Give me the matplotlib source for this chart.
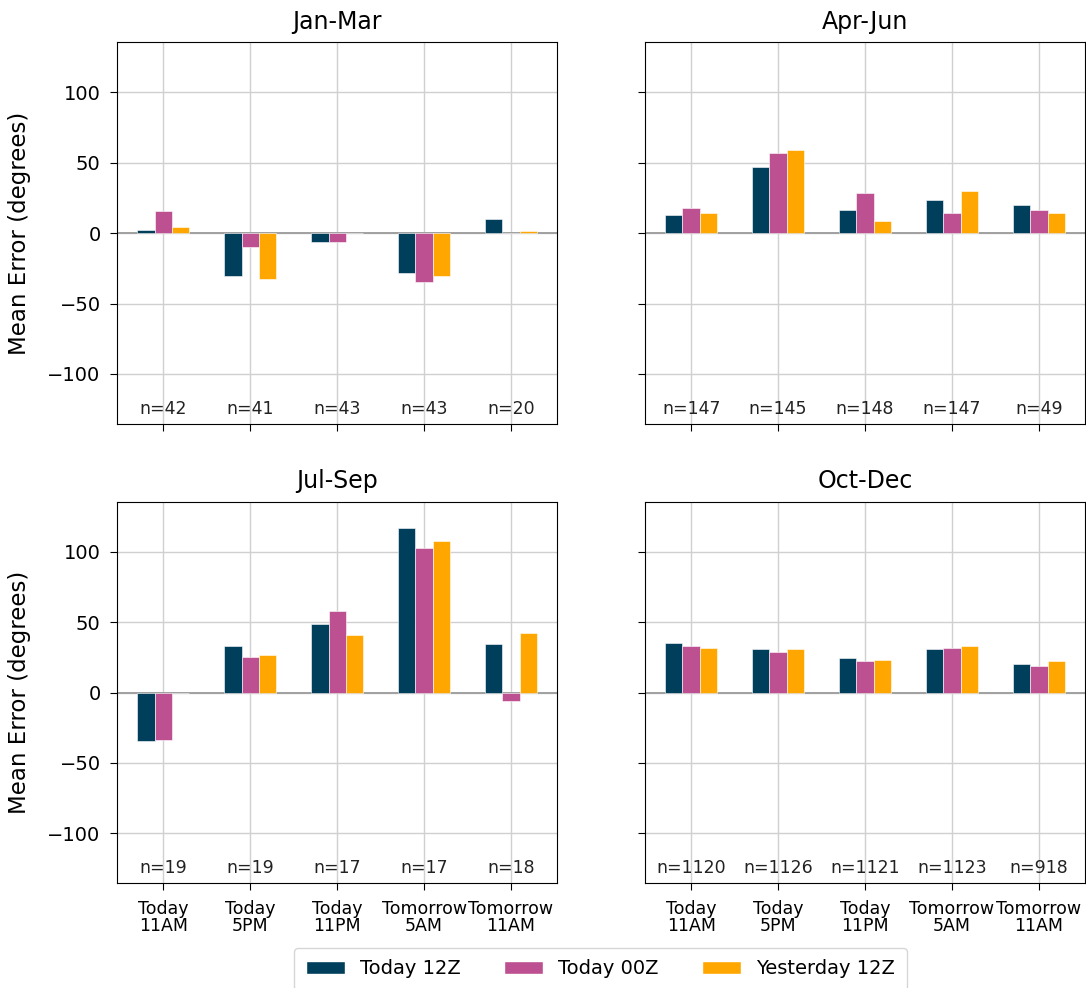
import numpy as np
import matplotlib.pyplot as plt
from matplotlib.patches import Patch

# forecast valid times
times = ['Today\n11AM', 'Today\n5PM', 'Today\n11PM', 'Tomorrow\n5AM', 'Tomorrow\n11AM']
runs = ['Today 12Z', 'Today 00Z', 'Yesterday 12Z']
colors = ['#003f5c', '#bc5090', '#ffa600']
seasons = ['Jan-Mar', 'Apr-Jun', 'Jul-Sep', 'Oct-Dec']

# mean error per season, one list per model run
jan_12z = [2.4, -30.7, -5.9, -28.4, 10.4]
jan_00z = [15.8, -9.5, -5.9, -35.0, 0.0]
jan_y12z = [4.7, -32.6, 0.0, -30.7, 1.4]
jan_n = [42, 41, 43, 43, 20]

apr_12z = [13.3, 47.2, 16.6, 23.4, 19.9]
apr_00z = [17.8, 57.0, 28.7, 14.3, 16.6]
apr_y12z = [14.3, 59.1, 8.9, 29.7, 14.3]
apr_n = [147, 145, 148, 147, 49]

jul_12z = [-34.4, 33.3, 48.7, 116.6, 34.4]
jul_00z = [-33.5, 25.5, 57.6, 102.6, -5.9]
jul_y12z = [-0.5, 26.7, 41.0, 108.0, 42.2]
jul_n = [19, 19, 17, 17, 18]

oct_12z = [35.3, 30.7, 24.2, 30.7, 20.0]
oct_00z = [32.8, 28.6, 22.1, 31.9, 18.8]
oct_y12z = [31.9, 30.7, 23.0, 32.8, 22.1]
oct_n = [1120, 1126, 1121, 1123, 918]

data = [
    (jan_12z, jan_00z, jan_y12z, jan_n),
    (apr_12z, apr_00z, apr_y12z, apr_n),
    (jul_12z, jul_00z, jul_y12z, jul_n),
    (oct_12z, oct_00z, oct_y12z, oct_n),
]

fig, axes = plt.subplots(2, 2, figsize=(10.86, 9.88), dpi=100, sharex=True, sharey=True)
plt.subplots_adjust(left=0.108, right=0.999, top=0.957, bottom=0.106, wspace=0.2, hspace=0.204)

x = np.arange(len(times))
width = 0.2

for ax, season, d in zip(axes.flat, seasons, data):
    ax.set_axisbelow(True)
    ax.grid(True, color='#d0d0d0', linewidth=1)
    ax.axhline(0, color='#a0a0a0', linewidth=1.4, zorder=1)
    for i in range(3):
        ax.bar(x + (i - 1) * width, d[i], width, color=colors[i],
               edgecolor='white', linewidth=0.4, zorder=2)
    for xi, n in zip(x, d[3]):
        ax.text(xi, -125, 'n=%d' % n, ha='center', va='center', fontsize=12.5, color='#222222')
    ax.set_title(season, fontsize=17, pad=10)
    ax.tick_params(axis='both', length=5, pad=7)
    ax.tick_params(axis='y', labelsize=14)

ax = axes[1, 0]
ax.set_ylim(-135.5, 135.5)
ax.set_yticks([-100, -50, 0, 50, 100])
ax.set_xticks(x)
ax.set_xticklabels(times, fontsize=12.5, linespacing=0.95)
axes[1, 1].tick_params(axis='x', labelbottom=True)
axes[1, 1].set_xticklabels(times, fontsize=12.5, linespacing=0.95)

axes[0, 0].set_ylabel('Mean Error (degrees)', fontsize=16.5, labelpad=12)
axes[1, 0].set_ylabel('Mean Error (degrees)', fontsize=16.5, labelpad=12)

handles = [Patch(facecolor=c, edgecolor='white') for c in colors]
fig.legend(handles, runs, loc='lower center', ncol=3, fontsize=14,
           bbox_to_anchor=(0.553, -0.012), handlelength=2, columnspacing=2.2,
           borderpad=0.6)

fig.savefig('out.png', dpi=100)
